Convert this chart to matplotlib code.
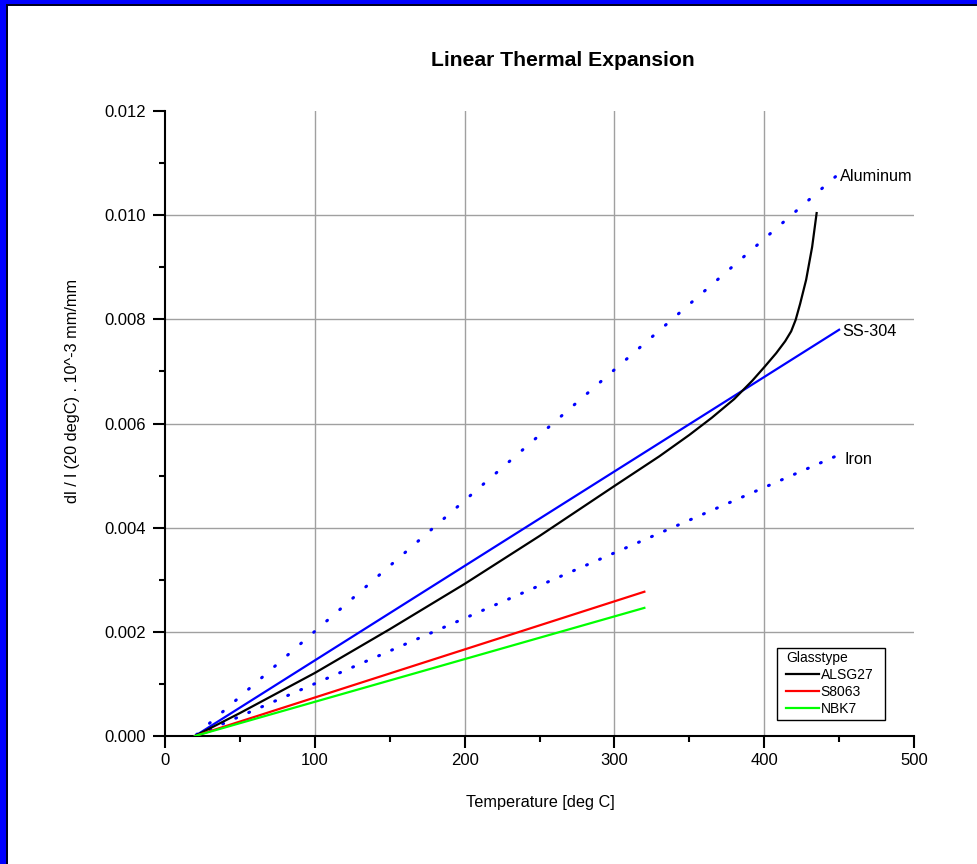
import matplotlib
matplotlib.use("Agg")
import matplotlib.pyplot as plt
from matplotlib.patches import Rectangle
from matplotlib.ticker import MultipleLocator

plt.rcParams['font.family'] = ['Liberation Sans', 'DejaVu Sans']

# ---- data ----
alsg27_T = [20, 50, 100, 150, 200, 250, 300, 330, 350, 365, 380, 392, 400, 408, 414, 418, 421, 424, 428, 432, 435]
alsg27_v = [0.0, 0.00044, 0.00121, 0.00205, 0.00292, 0.00384, 0.00480, 0.00537, 0.00578, 0.00611, 0.00647,
            0.00682, 0.00708, 0.00735, 0.00758, 0.00777, 0.00799, 0.00830, 0.00876, 0.00939, 0.01004]
s8063_T = [20, 320]
s8063_v = [0.0, 0.00277]
nbk7_T = [20, 320]
nbk7_v = [0.0, 0.00246]

aluminum_T = [20, 450]
aluminum_v = [0.0, 0.0108]
ss304_T = [20, 450]
ss304_v = [0.0, 0.0078]
iron_T = [20, 450]
iron_v = [0.0, 0.0054]

x_ticks = [0, 100, 200, 300, 400, 500]
y_ticks = [0.000, 0.002, 0.004, 0.006, 0.008, 0.010, 0.012]

W, H = 977, 864
fig = plt.figure(figsize=(W / 100, H / 100), dpi=100)
fig.patch.set_facecolor('white')
ax = fig.add_axes([165 / W, 1 - 736 / H, (914 - 165) / W, (736 - 111) / H])

BLUE = '#0000FF'
# reference (metal) curves
al, = ax.plot(aluminum_T, aluminum_v, color=BLUE, lw=2.2, linestyle=(5.0, (0.3, 5.36)), zorder=3)
ir, = ax.plot(iron_T, iron_v, color=BLUE, lw=2.2, linestyle=(4.0, (0.3, 4.34)), zorder=3)
al.set_dash_capstyle('round')
ir.set_dash_capstyle('round')
ax.plot(ss304_T, ss304_v, color=BLUE, lw=1.6, zorder=3)

# glass curves
l1, = ax.plot(alsg27_T, alsg27_v, color='black', lw=1.6, zorder=4, label='ALSG27')
l2, = ax.plot(s8063_T, s8063_v, color='#FF0000', lw=1.6, zorder=4, label='S8063')
l3, = ax.plot(nbk7_T, nbk7_v, color='#00FF00', lw=1.6, zorder=4, label='NBK7')

# curve labels
FS = 11.7
ax.text(450.6, aluminum_v[-1] - 0.00006, 'Aluminum', fontsize=FS, va='center', ha='left')
ax.text(452, ss304_v[-1] - 0.00004, 'SS-304', fontsize=FS, va='center', ha='left')
ax.text(453.5, iron_v[-1] - 0.0001, 'Iron', fontsize=FS, va='center', ha='left')

ax.set_xlim(0, 500)
ax.set_ylim(0, 0.012)
ax.set_xticks(x_ticks)
ax.set_yticks(y_ticks)
ax.set_yticklabels([f'{v:.3f}' for v in y_ticks])
ax.xaxis.set_minor_locator(MultipleLocator(50))
ax.yaxis.set_minor_locator(MultipleLocator(0.001))

for s in ['top', 'right']:
    ax.spines[s].set_visible(False)
for s in ['left', 'bottom']:
    ax.spines[s].set_linewidth(1.5)

ax.tick_params(axis='both', which='major', direction='out', length=8.5, width=1.5,
               labelsize=12, colors='black')
ax.tick_params(axis='x', which='major', pad=4)
ax.tick_params(axis='y', which='major', pad=5)
ax.tick_params(axis='both', which='minor', direction='out', length=4.5, width=1.5)

ax.grid(True, which='major', color='#A0A0A0', lw=1.0, zorder=0)
xg = ax.xaxis.get_gridlines()
yg = ax.yaxis.get_gridlines()
xg[0].set_visible(False)
xg[-1].set_visible(False)
yg[0].set_visible(False)
yg[-1].set_visible(False)

# titles and axis labels
fig.text(563 / W, 1 - 60 / H, 'Linear Thermal Expansion', fontsize=15.2, fontweight='bold',
         ha='center', va='center')
fig.text(540 / W, 1 - 802 / H, 'Temperature [deg C]', fontsize=FS, ha='center', va='center')
fig.text(73 / W, 1 - 391 / H, 'dl / l (20 degC) . 10^-3 mm/mm', fontsize=FS, ha='center',
         va='center', rotation=90)

# legend frame and contents
frame = Rectangle((777 / W, 1 - 720 / H), (885 - 777) / W, (720 - 648) / H,
                  transform=fig.transFigure, facecolor='white', edgecolor='black',
                  lw=1.0, zorder=6, clip_on=False)
ax.add_patch(frame)
leg = ax.legend(handles=[l1, l2, l3], title='Glasstype', loc='upper left',
                bbox_to_anchor=(786 / W, 1 - 651 / H), bbox_transform=fig.transFigure,
                fontsize=10, title_fontsize=10, frameon=False,
                handlelength=2.4, handletextpad=0.1, labelspacing=0.22,
                borderpad=0, borderaxespad=0, alignment='left')
leg.set_zorder(7)

# blue window frame (left and top)
fig.add_artist(Rectangle((0, 0), 6 / W, 1, transform=fig.transFigure, color=BLUE, lw=0, zorder=10))
fig.add_artist(Rectangle((6 / W, 0), 1.8 / W, 1 - 4 / H, transform=fig.transFigure, color='#000020', lw=0, zorder=10))
fig.add_artist(Rectangle((0, 1 - 4.3 / H), 1, 4.3 / H, transform=fig.transFigure, color=BLUE, lw=0, zorder=10))
fig.add_artist(Rectangle((6 / W, 1 - 6 / H), 1, 1.7 / H, transform=fig.transFigure, color='#000020', lw=0, zorder=10))

fig.savefig('out.png', dpi=100)
